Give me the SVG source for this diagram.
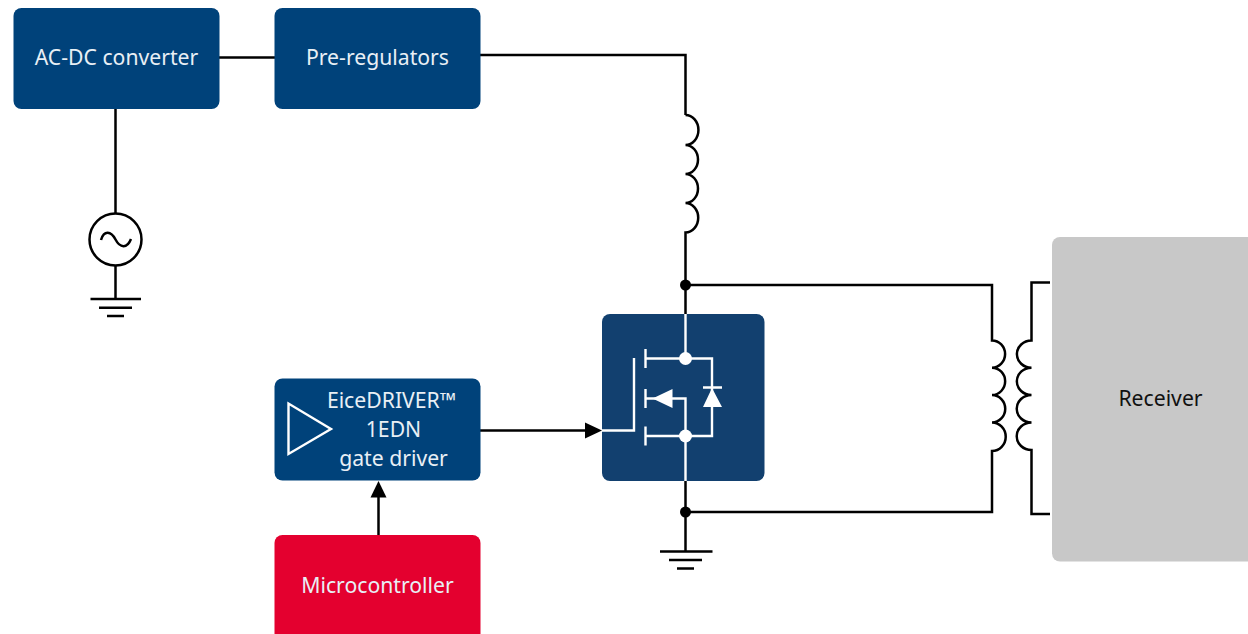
<svg xmlns="http://www.w3.org/2000/svg" width="1248" height="634" viewBox="0 0 1248 634">
<style>
.w{fill:none;stroke:#000;stroke-width:2.5}
.i{fill:none;stroke:#fff;stroke-width:2.4}
.b{fill:#00427a}
.t{font-family:"Noto Sans","Liberation Sans",sans-serif;font-size:21.2px;fill:#e8eff5;text-anchor:middle}
</style>
<rect width="1248" height="634" fill="#fff"/>
<g id="connectors">
<path class="w" d="M219 57.500H275"/>
<path class="w" d="M480 55H685.500V115"/>
<path class="w" d="M685.500 115A12.500 14.500 0 0 1 685.500 145A12.500 14.500 0 0 1 685.500 174A12.500 14.500 0 0 1 685.500 203A12.500 14.500 0 0 1 685.500 232.500V314"/>
<path class="w" d="M115.500 109V213M115.500 266V299"/>
<path class="w" d="M685 285H992V340.500A13 13.500 0 0 1 992 367.700A13 13.500 0 0 1 992 395A13 13.500 0 0 1 992 422.500A13 13.500 0 0 1 992 451V512H685"/>
<path class="w" d="M685.500 481V551"/>
<path class="w" d="M1050 282.500H1031.500V340.500A14.500 13.500 0 0 0 1031.500 367.700A14.500 13.500 0 0 0 1031.500 395A14.500 13.500 0 0 0 1031.500 422.500A14.500 13.500 0 0 0 1031.500 450V514H1050"/>
<path class="w" d="M480 430.500H587"/>
<path d="M602 430.500L585 422.500V438.500Z"/>
<path class="w" d="M378.500 535V495"/>
<path d="M378.500 481L370.500 497.500H386.500Z"/>
<circle cx="685.500" cy="285" r="5.500"/>
<circle cx="685.500" cy="512" r="5.500"/>
</g>
<g id="ac-source">
<circle cx="115.500" cy="239.500" r="26" fill="#fff" stroke="#000" stroke-width="2.500"/>
<path class="w" d="M101 240C104 230 111 231 115.500 239.500C120 248 127 249 131 239"/>
</g>
<g id="ground-1"><path class="w" d="M90.500 299H141M99 307.700H132M107 316H124"/></g>
<g id="ground-2"><path class="w" d="M660 551.500H712.500M669 560H702M677 568.500H694"/></g>
<g id="ac-dc"><rect class="b" x="13.500" y="8" width="206" height="101" rx="8"/><text class="t" x="116.500" y="65">AC-DC converter</text></g>
<g id="pre-regulators"><rect class="b" x="274.500" y="8" width="206" height="101" rx="8"/><text class="t" x="377.500" y="65">Pre-regulators</text></g>
<g id="driver"><rect class="b" x="274.500" y="378.500" width="206" height="102" rx="8"/>
<path class="i" d="M288.500 403.500V454L331 429Z"/>
<text class="t" x="391.500" y="408">EiceDRIVER™</text>
<text class="t" x="393.500" y="437">1EDN</text>
<text class="t" x="393.500" y="466">gate driver</text></g>
<g id="microcontroller"><rect x="274.500" y="535" width="206" height="110" rx="8" fill="#e4002f"/><text class="t" x="377.500" y="593">Microcontroller</text></g>
<g id="mosfet"><rect x="602" y="314" width="162.500" height="167" rx="8" fill="#12406f"/>
<path class="i" d="M685.500 314V358M646 358.500H712V436H646M685.500 436V481M685.500 436V398.500H665M646 398.500H660M645.500 349V368M645.500 389V408M645.500 426.500V445.500M634 358V430.500H602M703 387.500H722"/>
<path fill="#fff" d="M652.500 398.500L672.500 389V408ZM712 388L722 407H703Z"/>
<circle cx="685.500" cy="358.500" r="6.500" fill="#fff"/><circle cx="685.500" cy="436" r="6.500" fill="#fff"/></g>
<g id="receiver"><rect x="1052" y="237" width="210" height="324.500" rx="8" fill="#c8c8c8"/><text x="1160.500" y="406" font-family="Noto Sans,Liberation Sans,sans-serif" font-size="21.200" fill="#111" text-anchor="middle">Receiver</text></g>
</svg>
